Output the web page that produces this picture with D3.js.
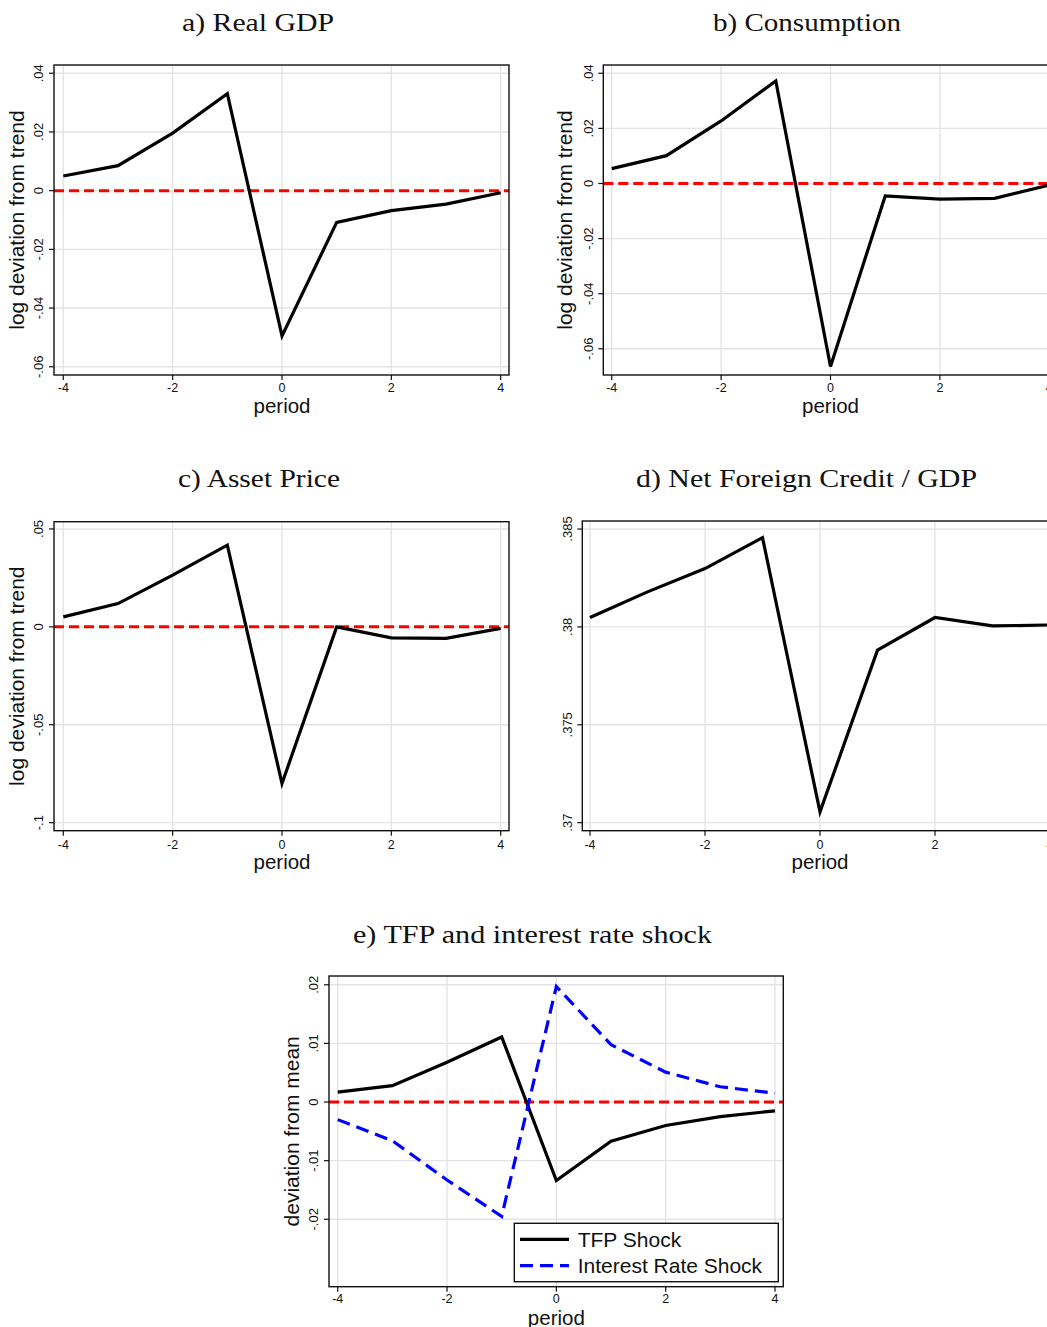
<!DOCTYPE html>
<html><head><meta charset="utf-8">
<script src="https://cdn.jsdelivr.net/npm/d3@7"></script>
<style>body{margin:0;background:#fff;overflow:hidden;} svg{display:block;}</style>
</head><body>
<svg id="chart" width="1047" height="1327"></svg>
<script>
// ---------- data ----------
const periods = [-4, -3, -2, -1, 0, 1, 2, 3, 4];
const realGDP = [0.0050, 0.0085, 0.0196, 0.0330, -0.0495, -0.0108, -0.0068, -0.0046, -0.0007];
const consumption = [0.0054, 0.0101, 0.0227, 0.0372, -0.0664, -0.0045, -0.0057, -0.0054, -0.0006];
const assetPrice = [0.0051, 0.0119, 0.0264, 0.0417, -0.0800, 0.0000, -0.0056, -0.0059, -0.0008];
const netForeignCredit = [0.38048, 0.38179, 0.38298, 0.38456, 0.37055, 0.37881, 0.38048, 0.38005, 0.38010];
const tfpShock = [0.0017, 0.0028, 0.0068, 0.0111, -0.0134, -0.0067, -0.0040, -0.0025, -0.0015];
const interestRateShock = [-0.0030, -0.0066, -0.0133, -0.0195, 0.0197, 0.0098, 0.0051, 0.0026, 0.0015];

const xTicks = [-4, -2, 0, 2, 4];
const xTickLabels = ["-4", "-2", "0", "2", "4"];
const yTicksAB = [-0.06, -0.04, -0.02, 0, 0.02, 0.04];
const yTickLabelsAB = ["-.06", "-.04", "-.02", "0", ".02", ".04"];
const yTicksC = [-0.1, -0.05, 0, 0.05];
const yTickLabelsC = ["-.1", "-.05", "0", ".05"];
const yTicksD = [0.37, 0.375, 0.38, 0.385];
const yTickLabelsD = [".37", ".375", ".38", ".385"];
const yTicksE = [-0.02, -0.01, 0, 0.01, 0.02];
const yTickLabelsE = ["-.02", "-.01", "0", ".01", ".02"];

const titles = ["a) Real GDP", "b) Consumption", "c) Asset Price", "d) Net Foreign Credit / GDP", "e) TFP and interest rate shock"];
const yTitles = ["log deviation from trend", "log deviation from trend", "log deviation from trend", "", "deviation from mean"];
const xTitle = "period";
const legendLabels = ["TFP Shock", "Interest Rate Shock"];

// ---------- layout ----------
const svg = d3.select("#chart");
const SANS = "'Liberation Sans', Arial, Helvetica, sans-serif";
const SERIF = "'Liberation Serif', 'Times New Roman', serif";

const panels = [
  {title: titles[0], tx: 258, ty: 31, tw: 152,
   L: 54, R: 509, T: 65, B: 375, xr: [63.3, 500.7], yd: [-0.0628, 0.0428],
   yt: yTicksAB, ytl: yTickLabelsAB, ytitle: yTitles[0], ytx: 24, yLabX: 43, xLabY: 392, xTitleY: 413,
   series: [{v: realGDP, color: "#000", dash: null}]},
  {title: titles[1], tx: 807, ty: 31, tw: 188,
   L: 603.3, R: 1058, T: 65, B: 375, xr: [611.7, 1049.3], yd: [-0.0695, 0.043],
   yt: yTicksAB, ytl: yTickLabelsAB, ytitle: yTitles[1], ytx: 572, yLabX: 593, xLabY: 392, xTitleY: 413,
   series: [{v: consumption, color: "#000", dash: null}]},
  {title: titles[2], tx: 259, ty: 487, tw: 162,
   L: 54, R: 509, T: 521.7, B: 830.7, xr: [63.3, 500.7], yd: [-0.1041, 0.0537],
   yt: yTicksC, ytl: yTickLabelsC, ytitle: yTitles[2], ytx: 24, yLabX: 43, xLabY: 849, xTitleY: 869,
   series: [{v: assetPrice, color: "#000", dash: null}]},
  {title: titles[3], tx: 806.5, ty: 487, tw: 341,
   L: 582.3, R: 1058.5, T: 521, B: 830.7, xr: [590, 1050], yd: [0.36959, 0.38541],
   yt: yTicksD, ytl: yTickLabelsD, ytitle: yTitles[3], ytx: 0, yLabX: 572, xLabY: 849, xTitleY: 869,
   zeroLine: false,
   series: [{v: netForeignCredit, color: "#000", dash: null}]},
  {title: titles[4], tx: 532.5, ty: 943, tw: 359,
   L: 329, R: 783.3, T: 976, B: 1286.7, xr: [337.7, 775], yd: [-0.0315, 0.0215],
   yt: yTicksE, ytl: yTickLabelsE, ytitle: yTitles[4], ytx: 299, yLabX: 318, xLabY: 1303, xTitleY: 1325,
   series: [{v: tfpShock, color: "#000", dash: null}, {v: interestRateShock, color: "#0000ff", dash: "13,7"}],
   legend: true}
];

panels.forEach(p => {
  const g = svg.append("g");
  const x = d3.scaleLinear().domain([-4, 4]).range(p.xr);
  const y = d3.scaleLinear().domain(p.yd).range([p.B, p.T]);

  // title
  g.append("text").attr("x", p.tx).attr("y", p.ty).attr("text-anchor", "middle")
    .attr("font-family", SERIF).attr("font-size", 26).attr("fill", "#111")
    .attr("textLength", p.tw).attr("lengthAdjust", "spacingAndGlyphs").text(p.title);

  // plot background + grid
  g.append("rect").attr("x", p.L).attr("y", p.T).attr("width", p.R - p.L).attr("height", p.B - p.T).attr("fill", "#fff");
  g.selectAll(".vg").data(xTicks).enter().append("line")
    .attr("x1", d => x(d)).attr("x2", d => x(d)).attr("y1", p.T).attr("y2", p.B)
    .attr("stroke", "#e4e4e4").attr("stroke-width", 1.4);
  g.selectAll(".hg").data(p.yt).enter().append("line")
    .attr("y1", d => y(d)).attr("y2", d => y(d)).attr("x1", p.L).attr("x2", p.R)
    .attr("stroke", "#e4e4e4").attr("stroke-width", 1.4);

  // zero line
  if (p.zeroLine !== false) {
    g.append("line").attr("x1", p.L).attr("x2", p.R).attr("y1", y(0)).attr("y2", y(0))
      .attr("stroke", "#ff0000").attr("stroke-width", 3).attr("stroke-dasharray", "10,5");
  }

  // series
  const line = d3.line().x((d, i) => x(periods[i])).y(d => y(d));
  p.series.forEach(s => {
    const path = g.append("path").datum(s.v).attr("d", line).attr("fill", "none")
      .attr("stroke", s.color).attr("stroke-width", 3.2).attr("stroke-linejoin", "miter");
    if (s.dash) path.attr("stroke-dasharray", s.dash);
  });

  // frame
  g.append("rect").attr("x", p.L).attr("y", p.T).attr("width", p.R - p.L).attr("height", p.B - p.T)
    .attr("fill", "none").attr("stroke", "#111").attr("stroke-width", 1.4);

  // x ticks
  g.selectAll(".xt").data(xTicks).enter().append("line")
    .attr("x1", d => x(d)).attr("x2", d => x(d)).attr("y1", p.B).attr("y2", p.B + 5)
    .attr("stroke", "#111").attr("stroke-width", 1.2);
  g.selectAll(".xl").data(xTicks).enter().append("text")
    .attr("x", d => x(d)).attr("y", p.xLabY).attr("text-anchor", "middle")
    .attr("font-family", SANS).attr("font-size", 12.5).attr("fill", "#111")
    .text((d, i) => xTickLabels[i]);
  g.append("text").attr("x", x(0)).attr("y", p.xTitleY).attr("text-anchor", "middle")
    .attr("font-family", SANS).attr("font-size", 20.5).attr("fill", "#111").text(xTitle);

  // y ticks
  g.selectAll(".yt").data(p.yt).enter().append("line")
    .attr("y1", d => y(d)).attr("y2", d => y(d)).attr("x1", p.L).attr("x2", p.L - 5)
    .attr("stroke", "#111").attr("stroke-width", 1.2);
  g.selectAll(".yl").data(p.yt).enter().append("text")
    .attr("transform", d => `translate(${p.yLabX},${y(d)}) rotate(-90)`)
    .attr("text-anchor", "middle")
    .attr("font-family", SANS).attr("font-size", 13).attr("fill", "#111")
    .text((d, i) => p.ytl[i]);
  if (p.ytitle) {
    g.append("text").attr("transform", `translate(${p.ytx},${(p.T + p.B) / 2}) rotate(-90)`)
      .attr("text-anchor", "middle").attr("font-family", SANS).attr("font-size", 21).attr("fill", "#111")
      .text(p.ytitle);
  }

  // legend
  if (p.legend) {
    const lg = g.append("g");
    lg.append("rect").attr("x", 514.3).attr("y", 1223.3).attr("width", 264).attr("height", 58.4)
      .attr("fill", "#fff").attr("stroke", "#111").attr("stroke-width", 1.4);
    p.series.forEach((s, i) => {
      const ly = 1239.3 + i * 26.4;
      const l = lg.append("line").attr("x1", 520).attr("x2", 569).attr("y1", ly).attr("y2", ly)
        .attr("stroke", s.color).attr("stroke-width", 3.2);
      if (s.dash) l.attr("stroke-dasharray", s.dash);
      lg.append("text").attr("x", 577.7).attr("y", ly + 7.5)
        .attr("font-family", SANS).attr("font-size", 21).attr("fill", "#111").text(legendLabels[i]);
    });
  }
});
</script>
</body></html>
